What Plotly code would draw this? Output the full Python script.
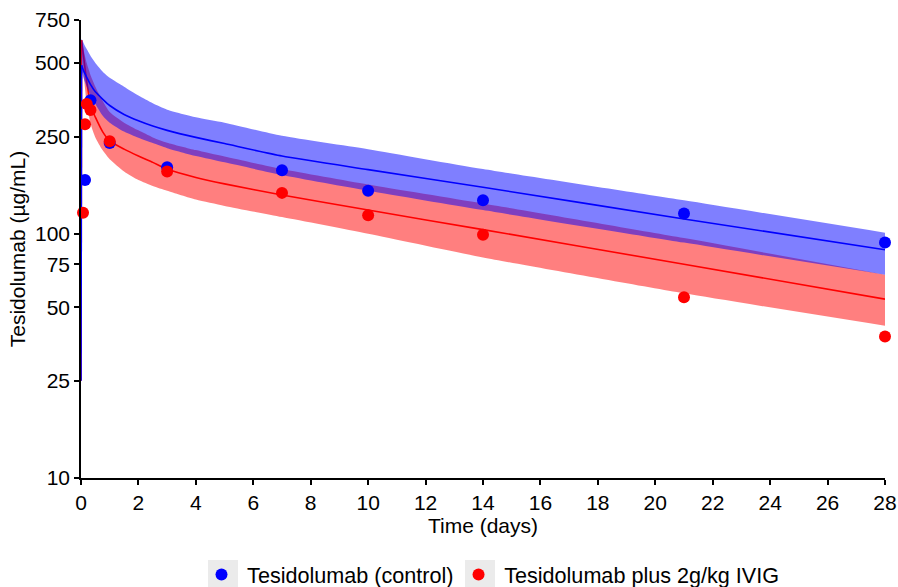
import plotly.graph_objects as go

# Observed data
blue_time = [0.14, 0.33, 1, 3, 7, 10, 14, 21, 28]
blue_conc = [166, 352, 235, 187, 182, 150, 137, 121, 92]
red_time = [0.07, 0.14, 0.2, 0.33, 1, 3, 7, 10, 14, 21, 28]
red_conc = [122, 281, 340, 321, 239, 180, 147, 119, 99, 55, 38]

# Model predictions
model_time = [0, 0.02, 0.1, 0.2, 0.35, 0.5, 0.75, 1, 1.5, 2, 2.5, 3, 4, 5, 7, 10, 14, 21, 28]
blue_line = [25, 490, 462, 437, 405, 381, 356, 335, 308, 290, 276, 265, 248, 234, 208, 183, 155, 115, 86]
blue_upper = [630, 628, 600, 570, 530, 500, 462, 435, 400, 368, 342, 322, 300, 285, 252, 222, 184, 137, 101]
blue_lower = [470, 465, 430, 400, 365, 340, 305, 285, 262, 247, 235, 224, 208, 196, 174, 150, 125, 92, 68]
red_line = [25, 620, 520, 420, 330, 300, 262, 240, 222, 208, 196, 184, 170, 160, 144, 125, 104, 75, 54]
red_upper = [630, 625, 560, 500, 440, 400, 350, 315, 285, 265, 248, 236, 220, 207, 184, 159, 133, 96, 68]
red_lower = [600, 590, 440, 340, 278, 248, 220, 202, 180, 166, 157, 150, 138, 130, 117, 100, 80, 57, 42]

y_ticks = [10, 25, 50, 75, 100, 250, 500, 750]
x_ticks = list(range(0, 29, 2))

BLUE = "#0000FF"
RED = "#FF0000"
font = "Liberation Sans, Arial, sans-serif"
FS = 21

W, H = 898, 587
L, R, T, B = 81, 13, 20, 109

fig = go.Figure()

def band(upper, lower, color):
    fig.add_trace(go.Scatter(x=model_time[1:], y=upper[1:], mode="lines",
                             line=dict(width=0, shape="spline", smoothing=0.6),
                             showlegend=False, hoverinfo="skip"))
    fig.add_trace(go.Scatter(x=model_time[1:], y=lower[1:], mode="lines",
                             line=dict(width=0, shape="spline", smoothing=0.6),
                             fill="tonexty", fillcolor=color, showlegend=False, hoverinfo="skip"))

def line(values, color):
    fig.add_trace(go.Scatter(x=model_time[:2], y=values[:2], mode="lines",
                             line=dict(color=color, width=1.6), showlegend=False, hoverinfo="skip"))
    fig.add_trace(go.Scatter(x=model_time[1:], y=values[1:], mode="lines",
                             line=dict(color=color, width=1.6, shape="spline", smoothing=0.6),
                             showlegend=False))

band(red_upper, red_lower, "rgba(255,0,0,0.5)")
line(red_line, RED)
band(blue_upper, blue_lower, "rgba(0,0,255,0.5)")
line(blue_line, BLUE)

fig.add_trace(go.Scatter(x=blue_time, y=blue_conc, mode="markers", name=" Tesidolumab (control)",
                         marker=dict(color=BLUE, size=12), cliponaxis=False))
fig.add_trace(go.Scatter(x=red_time, y=red_conc, mode="markers", name=" Tesidolumab plus 2g/kg IVIG",
                         marker=dict(color=RED, size=12), cliponaxis=False))

axis_common = dict(showline=True, linecolor="black", linewidth=1.5, ticks="outside",
                   ticklen=5, tickwidth=1.5, tickcolor="black", showgrid=False, zeroline=False,
                   automargin=False,
                   tickfont=dict(size=FS, color="black", family=font),
                   title_font=dict(size=FS, color="black", family=font))

fig.update_xaxes(range=[0, 28], tickvals=x_ticks, title_text="Time (days)", title_standoff=4,
                 **axis_common)
fig.update_yaxes(type="log", range=[1, 2.8751], tickvals=y_ticks, ticktext=[str(v) for v in y_ticks],
                 title_text="Tesidolumab (µg/mL)", title_standoff=4, **axis_common)

# grey legend-key backgrounds
ph = H - T - B
pw = W - L - R
shapes = []
for px in (208, 465):
    shapes.append(dict(type="rect", xref="paper", yref="paper",
                       x0=(px - L) / pw, x1=(px + 30 - L) / pw,
                       y0=(T + ph - 590) / ph, y1=(T + ph - 560) / ph,
                       fillcolor="#EBEBEB", line=dict(width=0), layer="below"))

fig.update_layout(
    width=W, height=H,
    margin=dict(l=L, r=R, t=T, b=B),
    plot_bgcolor="white", paper_bgcolor="white",
    font=dict(family=font, size=FS, color="black"),
    shapes=shapes,
    legend=dict(orientation="h", xref="container", yref="container",
                x=0.549, xanchor="center", y=1 - 575 / H, yanchor="middle",
                traceorder="normal",
                font=dict(size=21.6, color="black", family=font),
                bgcolor="rgba(0,0,0,0)"),
)

fig.write_html("out.html", config={"displayModeBar": False},
               post_script="document.body.style.margin='0';document.body.style.overflow='hidden';")
